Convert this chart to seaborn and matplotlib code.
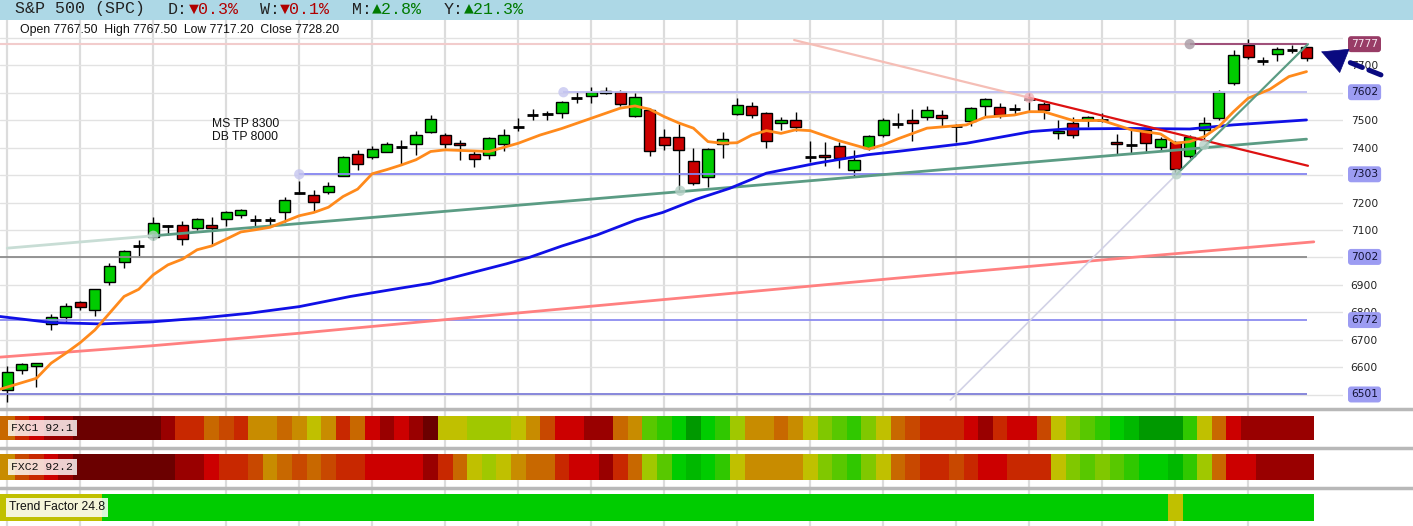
import numpy as np
import pandas as pd
import matplotlib
matplotlib.use('Agg')
import matplotlib.pyplot as plt
from matplotlib.colors import ListedColormap
from matplotlib.patches import Rectangle
import seaborn as sns

# daily candles, oldest -> newest
opens = [6518, 6589, 6604, 6757, 6785, 6837, 6808, 6912, 6983, 7042,
         7076, 7114, 7120, 7107, 7118, 7139, 7153, 7138, 7135, 7165,
         7234, 7227, 7238, 7297, 7376, 7365, 7386, 7403, 7412, 7456,
         7445, 7416, 7376, 7372, 7412, 7474, 7518, 7524, 7525, 7580,
         7588, 7599, 7604, 7517, 7538, 7440, 7438, 7352, 7292, 7414,
         7522, 7551, 7525, 7489, 7501, 7365, 7372, 7405, 7319, 7398,
         7446, 7485, 7499, 7511, 7518, 7480, 7497, 7551, 7547, 7541,
         7576, 7559, 7453, 7489, 7501, 7501, 7420, 7411, 7465, 7402,
         7420, 7368, 7465, 7507, 7635, 7774, 7714, 7740, 7756, 7767.5]
highs = [6603, 6615, 6615, 6795, 6833, 6843, 6884, 6979, 7028, 7062,
         7147, 7119, 7134, 7143, 7147, 7170, 7178, 7154, 7149, 7222,
         7277, 7246, 7274, 7370, 7390, 7405, 7422, 7428, 7461, 7519,
         7455, 7428, 7392, 7440, 7467, 7507, 7540, 7535, 7570, 7601,
         7620, 7620, 7610, 7598, 7544, 7467, 7486, 7398, 7398, 7457,
         7580, 7565, 7531, 7513, 7530, 7426, 7422, 7422, 7392, 7446,
         7507, 7525, 7541, 7552, 7538, 7487, 7547, 7580, 7564, 7559,
         7598, 7565, 7501, 7511, 7516, 7528, 7450, 7465, 7471, 7440,
         7425, 7447, 7511, 7610, 7756, 7795, 7732, 7768, 7774, 7767.5]
lows = [6475, 6577, 6530, 6736, 6767, 6807, 6788, 6901, 6963, 7006,
        7062, 7082, 7046, 7101, 7046, 7113, 7145, 7110, 7115, 7131,
        7232, 7171, 7232, 7295, 7319, 7360, 7383, 7337, 7374, 7453,
        7398, 7355, 7331, 7358, 7389, 7459, 7499, 7499, 7507, 7564,
        7562, 7596, 7550, 7513, 7368, 7392, 7246, 7264, 7256, 7361,
        7518, 7507, 7400, 7465, 7459, 7346, 7335, 7325, 7295, 7392,
        7440, 7470, 7426, 7499, 7477, 7422, 7480, 7513, 7507, 7519,
        7531, 7503, 7431, 7437, 7474, 7495, 7377, 7377, 7386, 7389,
        7313, 7364, 7430, 7501, 7629, 7722, 7700, 7717, 7744, 7717.2]
closes = [6582, 6611, 6615, 6782, 6824, 6819, 6884, 6968, 7023, 7042,
          7125, 7114, 7067, 7139, 7109, 7165, 7172, 7138, 7135, 7209,
          7234, 7201, 7261, 7365, 7340, 7396, 7412, 7403, 7445, 7505,
          7412, 7409, 7358, 7434, 7445, 7474, 7518, 7524, 7565, 7580,
          7601, 7608, 7558, 7584, 7387, 7410, 7391, 7270, 7394, 7431,
          7555, 7518, 7423, 7501, 7474, 7365, 7365, 7361, 7355, 7442,
          7500, 7485, 7489, 7538, 7507, 7480, 7544, 7576, 7518, 7541,
          7576, 7536, 7459, 7445, 7511, 7501, 7412, 7411, 7416, 7432,
          7321, 7438, 7489, 7603, 7738, 7729, 7714, 7759, 7756, 7728.2]

# moving averages at candle positions
fast_ma_idx = [-0.5, 2, 3, 4, 5, 6, 7, 8, 9, 10, 11, 12, 13, 14, 15, 16, 17, 18, 19,
               20, 21, 22, 23, 24, 25, 26, 27, 28, 29, 30, 32, 33, 35, 36.5, 38, 40,
               42, 43, 44, 45, 46, 47, 48, 49, 50, 51, 52, 53, 54, 55, 57, 59, 60,
               61, 63, 65.7, 67, 69, 70, 71, 73, 75, 77, 79, 80, 81, 82, 83, 84,
               85, 86.5, 87.8, 89]
fast_ma = [6520, 6560, 6615, 6651, 6690, 6736, 6797, 6858, 6884, 6937, 6973, 6994,
           7028, 7042, 7067, 7093, 7101, 7110, 7131, 7152, 7164, 7183, 7222, 7249,
           7305, 7320, 7337, 7356, 7386, 7392, 7388, 7386, 7416, 7446, 7470, 7507,
           7544, 7552, 7540, 7513, 7490, 7471, 7422, 7416, 7418, 7446, 7462, 7452,
           7465, 7462, 7425, 7395, 7410, 7432, 7471, 7483, 7511, 7519, 7531, 7531,
           7499, 7499, 7465, 7450, 7416, 7422, 7440, 7477, 7531, 7580, 7613, 7659,
           7677]
mid_ma_idx = [-0.5, 3, 6.4, 9.8, 13.2, 16.6, 20, 23.5, 26.9, 29, 31.2, 34.2, 35.8,
              38, 40.4, 43.1, 44.9, 47.2, 49.5, 52, 55.4, 58.9, 61.1, 65.7, 70.2,
              72.5, 77, 81, 84, 89]
mid_ma = [6785, 6763, 6758, 6765, 6779, 6797, 6821, 6858, 6888, 6906, 6936, 6977,
          7001, 7042, 7082, 7137, 7164, 7212, 7252, 7307, 7343, 7374, 7387, 7416,
          7459, 7468, 7470, 7468, 7483, 7501]
slow_ma_idx = [-0.5, 9.8, 20, 30.3, 61, 75, 89.5]
slow_ma = [6637, 6678, 6724, 6775, 6925, 6991, 7057]

# horizontal levels: value, first candle, colour
levels = [7602, 7303, 7002, 6772, 6501]
level_start = [38.1, 20, -0.5, -0.5, -0.5]
level_colors = ['#BCBCF2', '#8484F0', '#8C8C8C', '#8C8CF0', '#7E7ED8']
top_level = 7777

# trend lines: (faded start, anchor, end)
support_x, support_y = [0, 10, 89], [7034, 7079, 7431]
resist_x, resist_y = [53.9, 70.0, 89.1], [7792, 7582, 7334]
steep_x, steep_y = [64.6, 80.1, 89.1], [6481, 7303, 7777]

pivot_x = [38.1, 20, 81, 10, 46.1, 70, 80.1, 82]
pivot_y = [7602, 7303, 7777, 7079, 7243, 7582, 7303, 7410]
pivot_c = ['#C6C6F0', '#C6C6F0', '#A89AA4', '#B6D0C6', '#B6D0C6', '#F2B4BC',
           '#B6D0C6', '#B6D0C6']

# indicator strips, one colour level per candle
palette = ['#6B0000', '#990000', '#CC0000', '#C82800', '#C84800', '#C86800',
           '#C88C00', '#C0C000', '#A0C800', '#80C800', '#58C800', '#30C800',
           '#00CC00', '#00B800', '#009900']
fxc1 = [5, 3, 2, 1, 1, 0, 0, 0, 0, 0, 0, 1, 3, 3, 5, 4, 3, 6, 6, 5,
        6, 7, 6, 3, 5, 2, 1, 2, 1, 0, 7, 7, 8, 8, 8, 7, 6, 4, 2, 2,
        1, 1, 5, 6, 10, 11, 12, 14, 12, 11, 8, 6, 6, 5, 6, 7, 9, 10, 11, 9,
        7, 5, 4, 3, 3, 3, 2, 1, 3, 2, 2, 4, 7, 9, 10, 11, 12, 13, 14, 14,
        14, 11, 7, 5, 2, 1, 1, 1, 1, 1]
fxc2 = [6, 4, 3, 2, 1, 0, 0, 0, 0, 0, 0, 0, 1, 1, 2, 3, 3, 4, 6, 5,
        4, 5, 4, 3, 3, 2, 2, 2, 2, 1, 3, 5, 7, 8, 7, 6, 5, 5, 3, 2,
        2, 1, 3, 5, 8, 10, 12, 13, 12, 11, 7, 6, 6, 6, 6, 7, 9, 10, 11, 9,
        7, 5, 4, 3, 3, 4, 3, 2, 2, 3, 3, 3, 7, 9, 10, 9, 10, 11, 12, 12,
        13, 11, 8, 5, 2, 2, 1, 1, 1, 1]
trend_factor = [7] * 7 + [12] * 73 + [7] + [12] * 9
strip_labels = ['FXC1 92.1', 'FXC2 92.2', 'Trend Factor 24.8']

W, H = 1413, 526
sns.set_style('white')
plt.rcParams['font.family'] = ['DejaVu Sans']

fig = plt.figure(figsize=(W / 100, H / 100), dpi=100)


def px_axes(x0, y0, x1, y1):
    return fig.add_axes([x0 / W, 1 - y1 / H, (x1 - x0) / W, (y1 - y0) / H])


# ---- price panel ----
ax = px_axes(0, 20, 1343, 406)
ax.set_xlim(-0.5, 91.5)
ax.set_ylim(6459, 7865)
for s in ax.spines.values():
    s.set_visible(False)
ax.set_xticks(range(0, 86, 5))
ax.set_xticklabels([])
ax.set_yticks(range(6500, 7801, 100))
ax.set_yticklabels(['' if v == 7800 else str(v) for v in range(6500, 7801, 100)])
ax.yaxis.tick_right()
ax.tick_params(axis='y', length=0, pad=5.5, labelsize=7.7, labelcolor='#222222')
ax.tick_params(axis='x', length=0)
ax.grid(axis='x', color='#DCDCDC', lw=1.6)
ax.grid(axis='y', color='#E2E2E2', lw=1)
ax.set_axisbelow(True)

df = pd.DataFrame({'open': opens, 'high': highs, 'low': lows, 'close': closes})
df['idx'] = np.arange(len(df))
up = df[df.close > df.open]
dn = df[df.close < df.open]
flat = df[df.close == df.open]
ax.vlines(df.idx, df.low, df.high, color='black', lw=1, zorder=2)
ax.bar(up.idx, up.close - up.open, bottom=up.open, width=0.76, color='#00CC00',
       edgecolor='black', lw=1, zorder=3)
ax.bar(dn.idx, dn.open - dn.close, bottom=dn.close, width=0.76, color='#CC0000',
       edgecolor='black', lw=1, zorder=3)
ax.hlines(flat.close, flat.idx - 0.37, flat.idx + 0.37, color='black', lw=2, zorder=3)

# levels
ax.hlines(top_level, -0.5, 81, color='#F2CCCC', lw=1.5, zorder=4)
ax.hlines(top_level, 81, 89, color='#A0507A', lw=1.5, zorder=4)
for lv, st, col in zip(levels, level_start, level_colors):
    ax.hlines(lv, st, 89, color=col, lw=1.3, zorder=4)

# moving averages
sns.lineplot(x=slow_ma_idx, y=slow_ma, ax=ax, color='#FF8080', lw=2, estimator=None, zorder=4)
sns.lineplot(x=mid_ma_idx, y=mid_ma, ax=ax, color='#1010E6', lw=2, estimator=None, zorder=5)
sns.lineplot(x=fast_ma_idx, y=fast_ma, ax=ax, color='#FF8A1C', lw=2, estimator=None, zorder=6)

# trend lines
ax.plot(support_x[:2], support_y[:2], color='#C8DDD5', lw=2, zorder=4)
ax.plot(support_x[1:], support_y[1:], color='#5B9C84', lw=2, zorder=4)
ax.plot(resist_x[:2], resist_y[:2], color='#F5BEB6', lw=1.6, zorder=4)
ax.plot(resist_x[1:], resist_y[1:], color='#DD1111', lw=1.6, zorder=6)
ax.plot(steep_x[:2], steep_y[:2], color='#D2D2E6', lw=1.2, zorder=4)
ax.plot(steep_x[1:], steep_y[1:], color='#5B9C84', lw=1.6, zorder=6)
ax.scatter(pivot_x, pivot_y, s=55, c=pivot_c, alpha=0.8, edgecolors='none', zorder=7)

ax.text(14.0, 7486, 'MS TP 8300', fontsize=8.7, family=['Liberation Sans', 'DejaVu Sans'],
        va='center', ha='left', color='#111111')
ax.text(14.0, 7439, 'DB TP 8000', fontsize=8.7, family=['Liberation Sans', 'DejaVu Sans'],
        va='center', ha='left', color='#111111')

# right-hand level boxes
ytr = ax.get_yaxis_transform()
box_x = 1 + 8 / 1343
ax.text(box_x, top_level, str(top_level), transform=ytr, fontsize=7.7, color='#F6E6F0',
        va='center', ha='left', zorder=10, clip_on=False,
        bbox=dict(boxstyle='round,pad=0.28', fc='#983C66', ec='none'))
for lv in levels:
    ax.text(box_x, lv, str(lv), transform=ytr, fontsize=7.7, color='#111133',
            va='center', ha='left', zorder=10, clip_on=False,
            bbox=dict(boxstyle='round,pad=0.28', fc='#9C9CF2', ec='none'))

# pointer arrow at the last bar: dashed tail plus solid head
navy = '#0A0A80'
ax.annotate('', xy=(91.7, 7716), xytext=(94.1, 7665), annotation_clip=False,
            arrowprops=dict(arrowstyle='-', color=navy, lw=3.6, linestyle=(0, (2.6, 1.4)),
                            shrinkA=0, shrinkB=0), zorder=11)
ax.annotate('', xy=(90.0, 7750), xytext=(91.55, 7717), annotation_clip=False,
            arrowprops=dict(arrowstyle='-|>,head_length=1.75,head_width=0.9', color=navy,
                            lw=0.5, shrinkA=0, shrinkB=0), zorder=11)

# ---- header ----
fig.patches.append(Rectangle((0, 1 - 20 / H), 1, 20 / H, transform=fig.transFigure,
                             facecolor='#ADD8E6', edgecolor='none', zorder=0))
mono = ['Liberation Mono', 'DejaVu Sans Mono']
header = [(0, 'S&P 500 (SPC)', '#222222'), (15, 'D:', '#222222'), (17, '▼0.3%', '#B00000'),
          (24, 'W:', '#222222'), (26, '▼0.1%', '#B00000'), (33, 'M:', '#222222'),
          (35, '▲2.8%', '#007A00'), (42, 'Y:', '#222222'), (44, '▲21.3%', '#007A00')]
for pos, txt, col in header:
    fig.text((15 + 10.2 * pos) / W, 1 - 9 / H, txt, fontsize=12, family=mono,
             color=col, va='center', ha='left')
fig.text(20 / W, 1 - 30 / H, 'Open 7767.50  High 7767.50  Low 7717.20  Close 7728.20',
         fontsize=8.8, family=['Liberation Sans', 'DejaVu Sans'], color='#111111',
         va='center', ha='left')

# ---- indicator strips ----
low = px_axes(0, 406, W, 526)
low.set_xlim(-0.5, -0.5 + W / 14.6)
low.set_ylim(526, 406)
for s in low.spines.values():
    s.set_visible(False)
low.set_xticks(range(0, 86, 5))
low.set_xticklabels([])
low.set_yticks([])
low.tick_params(length=0)
low.grid(axis='x', color='#DCDCDC', lw=1.6)
for yy in (408.5, 447.5, 487.5):
    low.axhline(yy, color='#B8B8B8', lw=2.5)

cmap = ListedColormap(palette)
strip_rows = [(416, 440), (454, 480), (494, 521)]
for (y0, y1), vals, lab in zip(strip_rows, [fxc1, fxc2, trend_factor], strip_labels):
    hax = px_axes(0, y0, 1314, y1)
    sns.heatmap(np.array([vals]), ax=hax, cmap=cmap, vmin=-0.5, vmax=len(palette) - 0.5,
                cbar=False, xticklabels=False, yticklabels=False)
    if lab.startswith('FXC'):
        hax.text(0.78, 0.5, lab, fontsize=8.2, family=mono, color='#111111',
                 va='center', ha='left',
                 bbox=dict(boxstyle='square,pad=0.3', fc='#FFFFFF', alpha=0.82, ec='none'))
    else:
        hax.text(0.62, 0.5, lab, fontsize=8.7, family=['Liberation Sans', 'DejaVu Sans'],
                 color='#111111', va='center', ha='left',
                 bbox=dict(boxstyle='square,pad=0.25', fc='#FFFFFF', alpha=0.85, ec='none'))

fig.savefig('out.png', dpi=100)
